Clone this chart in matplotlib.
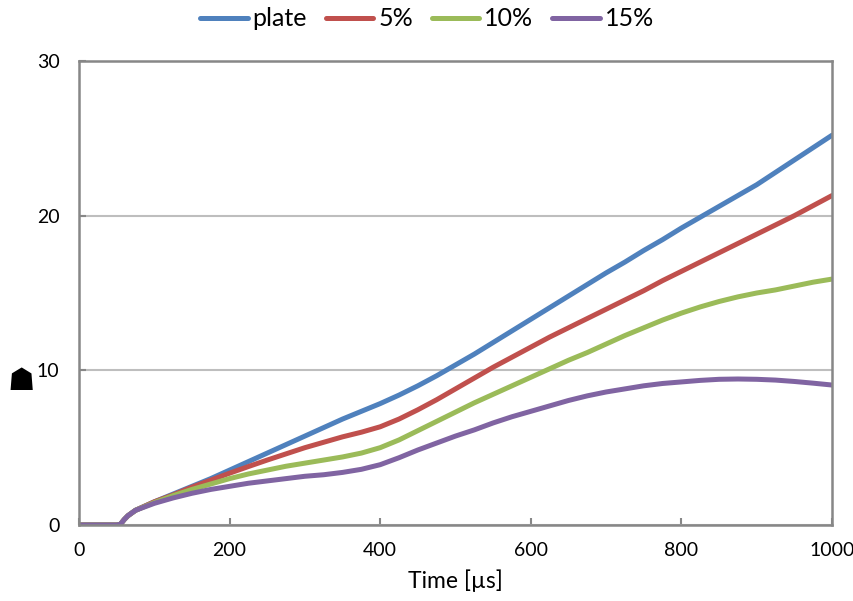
import matplotlib
matplotlib.use("Agg")
import matplotlib.pyplot as plt

plt.rcParams['font.family'] = ['Lato', 'DejaVu Sans']

time = [0, 25, 50, 55, 60, 65, 75, 100, 125, 150, 175, 200, 225, 250, 275, 300,
        325, 350, 375, 400, 425, 450, 475, 500, 525, 550, 575, 600, 625, 650,
        675, 700, 725, 750, 775, 800, 825, 850, 875, 900, 925, 950, 975, 1000]
plate = [0, 0, 0, 0.05, 0.35, 0.6, 0.95, 1.5, 2.0, 2.5, 3.0, 3.55, 4.1, 4.65, 5.2, 5.75,
         6.3, 6.85, 7.35, 7.85, 8.4, 9.0, 9.65, 10.35, 11.05, 11.8, 12.55, 13.3, 14.05, 14.8,
         15.55, 16.3, 17.0, 17.75, 18.45, 19.2, 19.9, 20.6, 21.3, 22.0, 22.8, 23.6, 24.4, 25.2]
p5 = [0, 0, 0, 0.05, 0.35, 0.6, 0.95, 1.5, 1.95, 2.45, 2.9, 3.35, 3.78, 4.2, 4.6, 5.0,
      5.35, 5.7, 6.0, 6.35, 6.85, 7.45, 8.1, 8.8, 9.5, 10.2, 10.85, 11.5, 12.15, 12.75,
      13.35, 13.95, 14.55, 15.15, 15.8, 16.4, 17.0, 17.6, 18.2, 18.8, 19.4, 20.0, 20.65, 21.3]
p10 = [0, 0, 0, 0.05, 0.35, 0.6, 0.95, 1.45, 1.9, 2.3, 2.65, 3.0, 3.3, 3.55, 3.8, 4.0,
       4.2, 4.4, 4.65, 5.0, 5.5, 6.1, 6.7, 7.3, 7.9, 8.45, 9.0, 9.55, 10.1, 10.65,
       11.15, 11.7, 12.25, 12.75, 13.25, 13.7, 14.1, 14.45, 14.75, 15.0, 15.2, 15.45, 15.7, 15.9]
p15 = [0, 0, 0, 0.05, 0.35, 0.6, 0.95, 1.4, 1.75, 2.05, 2.3, 2.5, 2.7, 2.85, 3.0, 3.15,
       3.25, 3.4, 3.6, 3.9, 4.35, 4.85, 5.3, 5.75, 6.15, 6.6, 7.0, 7.35, 7.7, 8.05,
       8.35, 8.6, 8.8, 9.0, 9.15, 9.25, 9.35, 9.42, 9.44, 9.42, 9.37, 9.28, 9.17, 9.05]

labels = ['plate', '5%', '10%', '15%']
colors = ['#4F81BD', '#C0504D', '#9BBB59', '#8064A2']
xticks = [0, 200, 400, 600, 800, 1000]
yticks = [0, 10, 20, 30]

fig = plt.figure(figsize=(8.54, 6.01), dpi=100)
ax = fig.add_axes([79/854, 1-525/601, (832-79)/854, (525-61)/601])

for y, lab, c in zip([plate, p5, p10, p15], labels, colors):
    ax.plot(time, y, color=c, lw=3.6, label=lab, solid_capstyle='round',
            solid_joinstyle='round')

ax.set_xlim(0, 1000)
ax.set_ylim(0, 30)
ax.set_xticks(xticks)
ax.set_yticks(yticks)
ax.yaxis.grid(True, color='#BEBEBE', lw=1.5)
ax.set_axisbelow(True)
for s in ax.spines.values():
    s.set_color('#878787')
    s.set_linewidth(1.8)
ax.tick_params(axis='both', direction='in', length=5, width=1.5, color='#878787',
               labelsize=14)
ax.tick_params(axis='x', pad=12)
ax.tick_params(axis='y', pad=14)
ax.set_xlabel('Time [µs]', fontsize=16.5, labelpad=8)
ax.set_ylabel('☗', fontsize=22, rotation=0, va='center')
ax.yaxis.set_label_coords(-0.077, 0.31)

fig.legend(loc='upper center', bbox_to_anchor=(0.5, 1.025), ncol=4, frameon=False,
           fontsize=18, handlelength=1.9, columnspacing=0.75, handletextpad=0.2)

fig.savefig('out.png', dpi=100)
